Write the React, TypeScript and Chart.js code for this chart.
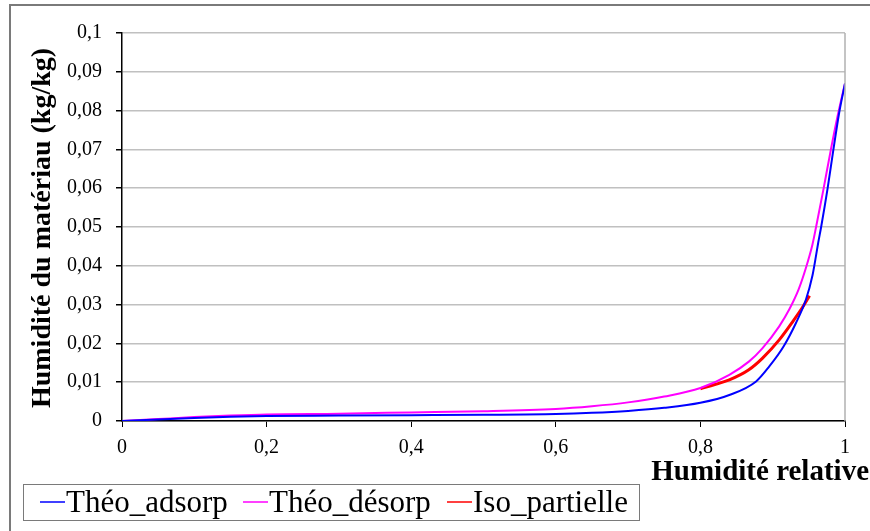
import React, { useEffect, useRef } from "react";
import { Chart, registerables } from "chart.js";

Chart.register(...registerables);

const xAdsorp = [0, 0.05, 0.1, 0.15, 0.2, 0.3, 0.4, 0.5, 0.6, 0.65, 0.7, 0.75, 0.8, 0.84, 0.877, 0.895, 0.915, 0.932, 0.946, 0.955, 0.959, 0.963, 0.967, 0.976, 0.984, 0.992, 1.0];
const yAdsorp = [0, 0.0004, 0.0008, 0.0011, 0.0013, 0.0014, 0.0015, 0.0016, 0.0018, 0.0021, 0.0026, 0.0034, 0.0047, 0.0067, 0.0102, 0.014, 0.0192, 0.0252, 0.0313, 0.0375, 0.0416, 0.046, 0.05, 0.06, 0.07, 0.0795, 0.087];

const xDesorp = [0, 0.05, 0.1, 0.15, 0.2, 0.3, 0.4, 0.5, 0.6, 0.65, 0.7, 0.75, 0.8, 0.84, 0.867, 0.886, 0.909, 0.923, 0.936, 0.946, 0.955, 0.96, 0.97, 0.98, 0.99, 1.0];
const yDesorp = [0, 0.0005, 0.001, 0.0014, 0.0017, 0.0019, 0.0022, 0.0025, 0.0031, 0.0038, 0.0048, 0.0063, 0.0085, 0.0119, 0.0153, 0.0188, 0.0244, 0.0288, 0.034, 0.0395, 0.0455, 0.05, 0.0595, 0.0695, 0.0788, 0.087];

const xPartielle = [0.8, 0.82, 0.84, 0.867, 0.886, 0.909, 0.928, 0.942, 0.951];
const yPartielle = [0.0083, 0.0094, 0.0106, 0.0132, 0.0162, 0.0209, 0.0257, 0.0295, 0.0323];

const seriesLabels = ["Théo_adsorp", "Théo_désorp", "Iso_partielle"];
const seriesColors = ["#0000ff", "#ff00ff", "#ff0000"];
const xTitle = "Humidité relative";
const yTitle = "Humidité du matériau (kg/kg)";

const SERIF = '"Liberation Serif", "Times New Roman", serif';

const toPoints = (xs: number[], ys: number[]) => xs.map((x, i) => ({ x, y: ys[i] }));
const fmt = (v: number) => String(+Number(v).toFixed(2)).replace(".", ",");

const decoPlugin = {
  id: "deco",
  beforeDraw(chart: any) {
    const ctx = chart.ctx;
    ctx.save();
    ctx.fillStyle = "#ffffff";
    ctx.fillRect(0, 0, chart.width, chart.height);
    ctx.strokeStyle = "#7a7a7a";
    ctx.lineWidth = 2;
    ctx.beginPath();
    ctx.moveTo(10, chart.height + 5);
    ctx.lineTo(10, 5);
    ctx.lineTo(chart.width + 5, 5);
    ctx.stroke();
    ctx.restore();
  },
  afterDraw(chart: any) {
    const ctx = chart.ctx;
    const a = chart.chartArea;
    ctx.save();
    ctx.strokeStyle = "#b0b0b0";
    ctx.lineWidth = 1.5;
    ctx.beginPath();
    ctx.moveTo(a.right, a.top);
    ctx.lineTo(a.right, a.bottom);
    ctx.stroke();

    ctx.fillStyle = "#000";
    ctx.font = `bold 29px ${SERIF}`;
    ctx.textAlign = "right";
    ctx.textBaseline = "alphabetic";
    ctx.fillText(xTitle, 869, 480);

    ctx.font = `bold 28px ${SERIF}`;
    ctx.translate(50, 228);
    ctx.rotate(-Math.PI / 2);
    ctx.textAlign = "center";
    ctx.fillText(yTitle, 0, 0);
    ctx.setTransform(1, 0, 0, 1, 0, 0);

    const lx = 23, ly = 484, lw = 616, lh = 36;
    ctx.fillStyle = "#fff";
    ctx.fillRect(lx, ly, lw, lh);
    ctx.strokeStyle = "#7a7a7a";
    ctx.lineWidth = 1;
    ctx.strokeRect(lx + 0.5, ly + 0.5, lw, lh);
    const starts = [40, 243, 447];
    ctx.font = `31px ${SERIF}`;
    ctx.textAlign = "left";
    ctx.textBaseline = "alphabetic";
    seriesLabels.forEach((lab, i) => {
      const sx = starts[i];
      ctx.strokeStyle = seriesColors[i];
      ctx.lineWidth = 1.5;
      ctx.beginPath();
      ctx.moveTo(sx, 502);
      ctx.lineTo(sx + 25, 502);
      ctx.stroke();
      ctx.fillStyle = "#000";
      ctx.fillText(lab, sx + 26, 512);
    });
    ctx.restore();
  },
};

export default function App() {
  const ref = useRef<HTMLCanvasElement>(null);
  useEffect(() => {
    if (!ref.current) return;
    const mk = (i: number, xs: number[], ys: number[], w: number) => ({
      label: seriesLabels[i],
      data: toPoints(xs, ys),
      borderColor: seriesColors[i],
      borderWidth: w,
      pointRadius: 0,
      cubicInterpolationMode: "monotone",
    });
    const chart = new Chart(ref.current, {
      type: "line",
      data: {
        datasets: [
          mk(0, xAdsorp, yAdsorp, 2),
          mk(1, xDesorp, yDesorp, 2),
          mk(2, xPartielle, yPartielle, 3),
        ],
      },
      options: {
        responsive: false,
        animation: false,
        devicePixelRatio: 1,
        layout: { padding: { top: 33, right: 25, left: 0, bottom: 0 } },
        plugins: { legend: { display: false }, tooltip: { enabled: false } },
        scales: {
          x: {
            type: "linear",
            min: 0,
            max: 1,
            afterFit: (s: any) => { s.height = 110; },
            ticks: {
              stepSize: 0.2,
              callback: (v: any) => fmt(v),
              color: "#000",
              font: { family: SERIF, size: 20 },
              padding: 9,
              maxRotation: 0,
            },
            grid: { drawOnChartArea: false, drawTicks: true, tickLength: 6, tickColor: "#000" },
            border: { color: "#000", width: 1.5 },
          },
          y: {
            type: "linear",
            min: 0,
            max: 0.1,
            afterFit: (s: any) => { s.width = 122; },
            ticks: {
              stepSize: 0.01,
              callback: (v: any) => fmt(v),
              color: "#000",
              font: { family: SERIF, size: 20 },
              padding: 14,
            },
            grid: { color: "#c0c0c0", lineWidth: 1.5, tickLength: 6, tickColor: "#000" },
            border: { color: "#000", width: 1.5 },
          },
        },
      },
      plugins: [decoPlugin],
    } as any);
    return () => chart.destroy();
  }, []);
  return (
    <div style={{ position: "absolute", left: 0, top: 0, width: 870, height: 531 }}>
      <canvas ref={ref} width={870} height={531} />
    </div>
  );
}
